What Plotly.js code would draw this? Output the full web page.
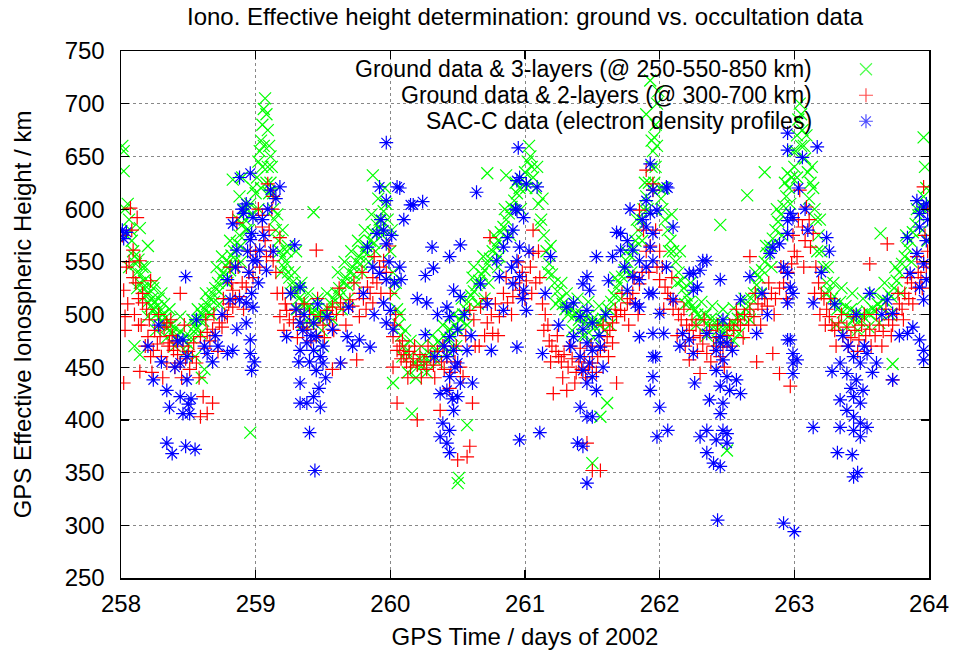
<!DOCTYPE html>
<html>
<head>
<meta charset="utf-8">
<script src="https://cdn.plot.ly/plotly-3.0.1.min.js"></script>
<style>html,body{margin:0;padding:0;background:#fff;}#chart{width:956px;height:653px;}</style>
</head>
<body>
<div id="chart"></div>
<script>
// ---------- data (day of 2002, effective height km) ----------
const titleText = "Iono. Effective height determination: ground vs. occultation data";
const xTitle = "GPS Time / days of 2002";
const yTitle = "GPS Effective Ionospheric Height / km";
const xTicks = [258, 259, 260, 261, 262, 263, 264];
const yTicks = [250, 300, 350, 400, 450, 500, 550, 600, 650, 700, 750];
const seriesNames = [
  "Ground data & 3-layers (@ 250-550-850 km)",
  "Ground data & 2-layers (@ 300-700 km)",
  "SAC-C data (electron density profiles)"
];

const green3Layer = [
[258.01,660],[258.02,655],[258.02,636],[258.03,600],[258.05,605],[258.06,590],[258.04,575],[258.07,580],[258.08,570],[258.09,560],[258.06,545],[258.1,555],
[258.11,548],[258.12,540],[258.13,552],[258.14,530],[258.14,582],[258.15,538],[258.16,525],[258.17,532],[258.18,518],[258.18,545],[258.19,526],[258.2,512],[258.2,565],[258.21,520],[258.22,508],[258.23,515],[258.24,505],[258.25,512],[258.25,530],[258.26,500],[258.27,508],[258.28,497],[258.29,503],[258.3,494],[258.3,520],[258.31,500],[258.32,490],[258.33,497],[258.34,488],[258.35,494],[258.36,485],[258.37,490],[258.38,482],[258.4,487],[258.42,480],[258.44,484],[258.46,476],[258.48,480],[258.5,472],[258.1,470],[258.14,462],[258.55,460],[258.6,440],[258.62,448],
[258.12,525],[258.16,545],[258.2,498],[258.24,525],[258.28,515],[258.32,510],[258.36,505],[258.4,470],[258.44,498],[258.48,465],[258.26,485],[258.34,478],
[258.52,478],[258.54,484],[258.55,490],[258.56,486],[258.58,495],[258.6,500],[258.61,494],[258.62,505],[258.64,510],[258.65,502],[258.66,515],[258.68,520],[258.69,512],[258.7,525],[258.72,530],[258.73,522],[258.74,536],[258.76,540],[258.77,532],[258.78,546],[258.8,550],[258.81,542],[258.82,556],[258.84,560],[258.85,552],[258.86,568],[258.88,575],[258.89,565],[258.9,585],[258.92,590],[258.93,580],[258.94,600],[258.96,605],[258.97,595],[258.83,628],[258.88,612],[258.9,630],[258.96,388],
[258.53,495],[258.57,505],[258.59,482],[258.63,520],[258.67,500],[258.71,545],[258.73,510],[258.75,555],[258.79,530],[258.81,570],[258.84,545],[258.87,590],[258.89,550],[258.91,600],[258.95,580],[258.98,620],
[259.0,615],[259.01,630],[259.02,645],[259.03,655],[259.04,665],[259.05,680],[259.06,695],[259.07,705],[259.08,690],[259.09,675],[259.1,660],[259.11,650],[259.12,640],[259.05,640],[259.08,625],[259.1,615],[259.13,600],[259.14,590],[259.15,580],
[259.02,600],[259.04,620],[259.06,660],[259.09,640],[259.11,625],[259.13,615],[259.16,595],
[259.17,570],[259.18,560],[259.2,555],[259.21,545],[259.22,550],[259.24,540],[259.25,535],[259.27,530],[259.28,525],[259.3,520],[259.32,515],[259.33,525],[259.35,512],[259.2,580],[259.24,565],
[259.19,540],[259.23,560],[259.26,520],[259.29,540],[259.31,505],[259.34,530],[259.39,520],[259.41,490],[259.46,515],[259.49,485],[259.53,520],
[259.37,510],[259.38,505],[259.4,508],[259.42,502],[259.44,498],[259.45,505],[259.47,500],[259.48,495],[259.5,502],[259.52,498],[259.54,505],[259.43,597],[259.3,560],[259.5,470],[259.35,490],
[259.56,510],[259.58,515],[259.6,520],[259.62,525],[259.63,518],[259.65,530],[259.67,535],[259.68,528],[259.7,540],[259.72,545],[259.73,538],[259.75,550],[259.77,555],[259.78,548],[259.8,560],[259.82,565],[259.83,558],[259.85,570],[259.87,578],[259.88,568],[259.9,585],[259.92,590],[259.93,580],[259.95,598],[259.97,605],[259.87,632],[259.98,590],
[259.57,495],[259.61,540],[259.64,505],[259.66,550],[259.69,515],[259.71,560],[259.74,530],[259.76,570],[259.79,540],[259.81,580],[259.84,550],[259.86,595],[259.89,560],[259.91,610],[259.94,575],[259.96,620],
[260.0,560],[260.02,540],[260.03,520],[260.05,505],[260.06,490],[260.08,480],[260.1,470],[260.12,465],[260.14,460],[260.02,435],[260.16,406],[260.18,455],[260.2,450],[260.22,458],[260.24,452],[260.26,460],[260.28,455],[260.3,462],[260.32,470],[260.34,465],[260.36,475],[260.38,470],[260.4,480],[260.42,476],[260.44,486],[260.46,480],[260.48,490],[260.5,485],[260.5,340],[260.51,345],[260.57,395],
[260.01,580],[260.04,530],[260.07,500],[260.09,460],[260.11,485],[260.13,445],[260.15,475],[260.19,440],[260.23,470],[260.27,445],[260.31,480],[260.35,455],[260.39,490],[260.43,465],[260.47,500],[260.49,470],
[260.52,495],[260.54,500],[260.56,505],[260.58,512],[260.6,518],[260.62,522],[260.64,528],[260.66,532],[260.68,538],[260.7,542],[260.72,548],[260.74,553],[260.76,560],[260.78,565],[260.8,570],[260.82,578],[260.84,583],[260.86,590],[260.88,596],[260.9,602],[260.92,608],[260.94,615],[260.96,620],[260.98,628],[261.0,635],[261.02,645],[261.04,650],[261.05,640],[261.06,630],[260.72,634],[260.86,632],[260.62,545],[260.7,515],[260.8,545],
[260.53,515],[260.57,490],[260.61,535],[260.65,510],[260.69,555],[260.73,530],[260.77,575],[260.81,555],[260.85,600],[260.89,575],[260.93,625],[260.97,600],[261.01,620],[261.03,660],
[261.08,620],[261.1,605],[261.12,590],[261.14,575],[261.16,560],[261.18,548],[261.2,538],[261.22,530],[261.24,522],[261.26,515],[261.28,510],[261.3,505],
[261.09,640],[261.11,585],[261.13,610],[261.17,540],[261.19,565],[261.23,510],[261.27,530],[261.31,520],[261.35,485],[261.39,515],[261.43,480],[261.47,512],[261.51,478],[261.55,508],[261.59,485],
[261.32,500],[261.34,505],[261.36,498],[261.38,502],[261.4,495],[261.42,500],[261.44,492],[261.46,498],[261.48,490],[261.5,495],[261.52,488],[261.54,494],[261.56,490],[261.58,496],[261.6,500],[261.5,359],[261.56,403],[261.61,416],[261.45,480],
[261.62,505],[261.64,512],[261.66,518],[261.68,525],[261.7,530],[261.72,536],[261.74,542],[261.76,550],[261.78,556],[261.8,563],[261.82,570],[261.84,580],[261.86,590],[261.88,600],[261.9,612],[261.92,625],[261.94,640],[261.95,655],[261.96,668],[261.97,680],[261.98,700],[261.99,712],[261.93,722],[261.9,690],[261.97,640],[262.0,620],[262.01,610],[262.02,600],
[261.63,490],[261.67,535],[261.71,515],[261.75,560],[261.79,540],[261.83,590],[261.87,570],[261.89,625],[261.91,600],[261.94,665],[261.96,625],[261.98,660],
[262.04,590],[262.06,580],[262.08,570],[262.1,560],[262.12,550],[262.14,540],[262.16,532],[262.18,525],[262.2,518],[262.22,512],[262.24,508],[262.26,504],[262.28,500],
[262.03,620],[262.07,560],[262.09,595],[262.13,530],[262.15,560],[262.19,510],[262.23,530],[262.27,490],[262.31,512],[262.35,480],[262.39,508],[262.43,475],[262.47,505],[262.51,478],[262.55,506],[262.59,482],[262.63,515],
[262.3,498],[262.32,494],[262.34,500],[262.36,490],[262.38,496],[262.4,488],[262.42,494],[262.44,486],[262.46,492],[262.48,485],[262.5,490],[262.52,487],[262.54,493],[262.56,490],[262.58,496],[262.6,500],[262.62,497],[262.64,505],[262.45,585],[262.5,371],[262.55,475],
[262.66,508],[262.68,515],[262.7,520],[262.72,528],[262.74,535],[262.76,542],[262.78,550],[262.8,558],[262.82,565],[262.84,572],[262.86,580],[262.88,588],[262.9,595],[262.92,603],[262.94,612],[262.96,620],[262.98,630],[263.0,640],[262.65,613],[262.78,635],[262.95,634],
[262.67,495],[262.71,540],[262.75,520],[262.79,565],[262.83,545],[262.87,600],[262.91,575],[262.93,625],[262.97,605],[262.99,655],
[263.01,655],[263.02,670],[263.03,685],[263.04,700],[263.05,690],[263.06,675],[263.07,660],[263.08,648],[263.1,635],[263.12,625],[263.14,620],
[263.02,630],[263.05,660],[263.09,670],[263.11,610],[263.13,640],[263.17,560],[263.19,590],[263.23,520],[263.25,545],[263.29,530],
[263.15,600],[263.16,590],[263.18,575],[263.2,560],[263.22,545],[263.24,530],[263.26,522],[263.28,515],
[263.3,510],[263.32,505],[263.34,512],[263.36,502],[263.38,508],[263.4,498],[263.42,505],[263.44,496],[263.46,502],[263.48,494],[263.5,500],[263.52,497],[263.54,503],[263.56,500],[263.58,506],[263.6,503],[263.62,510],[263.64,507],[263.66,514],[263.68,512],[263.7,520],[263.72,517],[263.64,577],[263.73,453],
[263.31,490],[263.35,525],[263.39,488],[263.43,520],[263.47,485],[263.51,515],[263.55,488],[263.59,520],[263.63,492],[263.67,530],[263.71,500],
[263.74,525],[263.76,532],[263.78,540],[263.8,548],[263.82,555],[263.84,563],[263.86,570],[263.88,578],[263.9,586],[263.92,594],[263.94,602],[263.96,612],[263.98,620],[263.96,668],[263.99,600],
[263.75,545],[263.79,520],[263.83,575],[263.87,550],[263.91,600],[263.95,580],[263.97,640],[263.99,570]
];

const red2Layer = [
[258.01,575],[258.02,523],[258.02,435],[258.03,498],[258.03,485],[258.04,545],[258.05,510],[258.07,601],[258.08,580],[258.09,561],[258.09,535],[258.1,500],[258.12,592],[258.13,515],[258.14,551],[258.14,446],[258.15,490],[258.16,520],[258.16,511],[258.18,470],[258.2,479],[258.21,495],[258.22,460],[258.22,532],[258.24,466],[258.25,485],[258.27,472],[258.29,479],[258.3,460],[258.32,488],[258.34,492],[258.34,454],[258.35,470],[258.36,473],[258.38,480],[258.39,466],[258.4,450],[258.42,462],[258.44,454],[258.44,520],[258.46,470],[258.48,458],[258.5,465],[258.51,448],[258.53,460],[258.54,473],[258.56,454],[258.59,479],[258.59,403],[258.61,422],[258.62,468],[258.64,483],[258.64,406],[258.66,475],[258.68,486],[258.68,416],[258.7,480],[258.73,492],[258.75,488],[258.77,500],[258.79,498],[258.8,510],[258.81,545],[258.83,507],[258.83,523],[258.83,592],[258.85,515],[258.86,587],[258.88,517],[258.9,530],[258.93,526],[258.95,540],[258.98,535],
[258.06,550],[258.11,530],[258.13,490],[258.19,505],[258.23,445],[258.28,500],[258.31,440],[258.37,495],[258.41,475],[258.45,440],[258.47,490],[258.58,440],[258.63,495],[258.69,500],[258.72,465],[258.76,515],[258.82,530],[258.87,545],[258.91,505],[258.96,560],
[259.0,560],[259.03,545],[259.05,583],[259.05,594],[259.07,570],[259.08,555],[259.09,624],[259.1,580],[259.12,600],[259.13,612],[259.13,551],[259.15,540],[259.18,573],[259.18,498],[259.2,520],[259.22,510],[259.23,504],[259.25,495],[259.28,492],[259.3,505],[259.33,498],[259.35,488],[259.38,486],[259.4,500],[259.43,492],[259.45,561],[259.45,480],[259.48,498],[259.5,490],[259.53,504],[259.55,495],[259.57,507],[259.57,448],[259.6,500],[259.63,511],[259.63,454],[259.65,505],[259.7,514],[259.72,508],[259.75,457],[259.77,520],[259.77,498],[259.8,515],[259.83,526],[259.85,520],[259.87,535],[259.87,511],[259.9,530],[259.92,545],[259.95,551],[259.97,540],
[259.02,600],[259.11,560],[259.16,520],[259.21,485],[259.26,520],[259.31,478],[259.36,510],[259.41,475],[259.46,515],[259.51,478],[259.58,485],[259.62,525],[259.67,490],[259.73,530],[259.79,540],[259.82,505],[259.88,555],[259.93,520],[259.99,565],
[260.0,520],[260.02,479],[260.02,450],[260.04,500],[260.05,466],[260.05,416],[260.07,470],[260.08,458],[260.1,462],[260.12,455],[260.14,465],[260.15,450],[260.17,458],[260.2,400],[260.2,452],[260.22,462],[260.25,455],[260.27,448],[260.3,460],[260.32,452],[260.35,465],[260.37,409],[260.38,455],[260.4,448],[260.42,460],[260.45,445],[260.48,455],[260.5,362],[260.52,450],[260.54,441],[260.57,365],[260.59,375],[260.59,504],[260.61,416],[260.63,470],[260.67,507],[260.7,480],[260.72,492],[260.74,573],[260.76,482],[260.78,510],[260.81,498],[260.84,520],[260.87,511],[260.91,517],[260.93,530],[260.96,523],[260.98,540],
[260.03,490],[260.09,475],[260.13,440],[260.18,470],[260.23,440],[260.28,470],[260.33,440],[260.39,470],[260.44,430],[260.49,470],[260.56,480],[260.62,495],[260.66,470],[260.71,515],[260.75,500],[260.8,480],[260.86,535],[260.9,500],[260.95,550],[261.0,515],
[261.01,532],[261.04,545],[261.06,558],[261.06,580],[261.08,530],[261.11,535],[261.13,510],[261.15,500],[261.17,490],[261.18,475],[261.2,470],[261.21,425],[261.23,465],[261.25,460],[261.27,455],[261.29,462],[261.31,428],[261.32,450],[261.35,458],[261.38,445],[261.4,455],[261.42,448],[261.44,460],[261.46,378],[261.47,450],[261.5,352],[261.5,454],[261.53,445],[261.56,352],[261.56,466],[261.59,470],[261.61,479],[261.63,485],[261.65,492],[261.65,473],[261.68,435],[261.68,498],[261.71,504],[261.74,500],[261.76,511],[261.78,515],[261.8,520],[261.82,510],[261.85,529],[261.85,599],[261.87,540],[261.9,637],[261.9,560],[261.92,540],[261.95,624],[261.95,618],[261.97,580],
[261.05,520],[261.1,560],[261.14,485],[261.19,455],[261.24,480],[261.28,440],[261.33,470],[261.37,435],[261.41,468],[261.45,440],[261.49,470],[261.54,460],[261.58,490],[261.62,460],[261.67,505],[261.72,520],[261.77,490],[261.81,535],[261.84,500],[261.88,580],[261.93,565],[261.98,545],
[262.0,533],[262.0,560],[262.02,545],[262.04,526],[262.06,520],[262.08,515],[262.1,505],[262.12,512],[262.14,500],[262.16,495],[262.18,505],[262.2,490],[262.22,457],[262.22,485],[262.25,478],[262.27,490],[262.3,444],[262.3,480],[262.32,472],[262.35,463],[262.37,485],[262.4,470],[262.42,478],[262.45,460],[262.47,469],[262.5,480],[262.52,490],[262.55,485],[262.58,495],[262.6,490],[262.63,500],[262.67,555],[262.67,505],[262.7,498],[262.72,455],[262.73,510],[262.76,505],[262.78,515],[262.8,508],[262.83,520],[262.84,463],[262.86,515],[262.89,444],[262.89,525],[262.92,530],[262.95,540],[262.97,432],[262.98,548],
[262.03,505],[262.09,535],[262.13,480],[262.19,470],[262.24,495],[262.28,465],[262.33,495],[262.38,455],[262.43,490],[262.48,450],[262.53,470],[262.57,505],[262.62,478],[262.66,490],[262.71,520],[262.75,490],[262.81,530],[262.85,500],[262.9,545],[262.94,515],[262.99,575],
[263.0,560],[263.02,555],[263.04,618],[263.06,583],[263.08,570],[263.09,602],[263.12,564],[263.14,577],[263.16,545],[263.18,530],[263.2,520],[263.22,515],[263.24,505],[263.26,498],[263.28,490],[263.3,485],[263.33,492],[263.36,480],[263.39,488],[263.42,478],[263.45,485],[263.48,476],[263.5,490],[263.53,480],[263.56,548],[263.56,486],[263.6,480],[263.63,490],[263.66,484],[263.69,567],[263.7,495],[263.73,438],[263.73,490],[263.76,500],[263.78,510],[263.8,505],[263.82,520],[263.85,515],[263.87,530],[263.9,525],[263.92,540],[263.94,535],[263.96,621],[263.96,550],[263.98,545],[263.99,600],
[263.03,590],[263.07,545],[263.11,590],[263.15,520],[263.19,500],[263.23,490],[263.27,515],[263.31,470],[263.35,500],[263.4,470],[263.44,498],[263.47,465],[263.52,500],[263.57,470],[263.61,500],[263.65,470],[263.68,505],[263.72,480],[263.77,520],[263.81,495],[263.84,535],[263.88,510],[263.91,555],[263.95,525],[263.97,575],[263.99,560]
];

const blueSacC = [
[258.01,580],[258.04,578],[258.02,572],
[258.2,470],[258.24,438],[258.28,490],[258.3,455],[258.34,428],[258.34,378],[258.36,412],[258.38,368],[258.4,450],[258.42,475],[258.44,422],[258.44,454],[258.46,406],[258.46,476],[258.48,536],[258.48,375],[258.49,460],[258.49,438],[258.5,415],[258.51,406],[258.52,420],[258.55,372],[258.56,495],
[258.62,470],[258.64,463],[258.68,455],[258.7,480],[258.72,470],[258.75,500],[258.79,463],[258.79,533],[258.81,514],[258.83,466],[258.83,586],[258.85,545],[258.86,486],[258.86,561],[258.88,514],[258.88,630],[258.9,600],[258.91,596],[258.93,492],[258.93,511],[258.93,605],[258.94,560],[258.95,540],[258.96,634],[258.96,571],[258.96,476],[258.96,463],[258.97,577],[258.97,520],[258.97,447],[258.98,592],[258.98,551],[258.98,507],[258.99,455],
[259.01,551],[259.02,530],[259.03,561],[259.05,590],[259.06,575],[259.08,542],[259.09,600],[259.11,618],[259.13,560],[259.15,610],[259.18,621],
[259.23,479],[259.26,520],[259.29,566],[259.3,505],[259.32,455],[259.33,526],[259.33,492],[259.33,466],[259.33,435],[259.33,416],[259.35,485],[259.36,500],[259.38,473],[259.38,416],[259.4,388],[259.4,455],[259.41,480],[259.43,492],[259.43,466],[259.43,422],[259.44,352],[259.45,479],[259.45,447],[259.46,510],[259.47,430],[259.48,460],[259.48,412],[259.5,454],[259.5,470],[259.52,440],[259.53,498],[259.57,486],
[259.63,454],[259.68,479],[259.69,507],[259.72,470],[259.77,476],[259.8,520],[259.83,564],[259.85,469],[259.87,545],[259.88,500],[259.9,577],[259.92,621],[259.92,539],[259.93,590],[259.95,580],[259.95,511],[259.97,663],[259.97,608],[259.97,567],[259.97,533],[259.97,492],[259.99,550],[260.0,504],[260.01,575],[260.02,486],[260.03,530],[260.05,621],[260.07,620],[260.07,545],[260.08,533],[260.1,590],
[260.15,604],[260.17,604],[260.2,515],[260.24,607],[260.26,537],[260.26,481],[260.27,511],[260.31,564],[260.32,544],[260.33,460],
[260.35,500],[260.37,425],[260.37,384],[260.39,397],[260.4,470],[260.42,507],[260.42,460],[260.42,428],[260.42,378],[260.44,555],[260.44,498],[260.44,479],[260.44,441],[260.44,390],[260.44,369],[260.46,420],[260.47,523],[260.47,466],[260.47,409],[260.48,450],[260.5,486],[260.5,454],[260.5,422],[260.52,566],[260.52,517],[260.52,435],[260.55,500],[260.57,466],[260.6,480],[260.61,435],
[260.64,616],[260.67,529],[260.72,510],[260.75,466],[260.79,551],[260.81,536],[260.84,564],[260.84,504],[260.87,573],[260.9,545],[260.91,580],[260.91,529],[260.93,600],[260.94,627],[260.94,599],[260.94,551],[260.94,469],[260.95,658],[260.96,630],[260.96,564],[260.96,536],[260.96,381],[260.98,515],[260.99,592],[260.99,523],[261.01,624],[261.01,504],[261.03,560],[261.09,621],[261.11,388],[261.13,463],[261.15,520],[261.19,555],[261.25,490],
[261.31,507],[261.34,470],[261.36,511],[261.36,479],[261.39,378],[261.41,498],[261.41,460],[261.41,412],[261.43,529],[261.43,486],[261.43,447],[261.43,375],[261.46,536],[261.46,504],[261.46,473],[261.46,435],[261.46,403],[261.46,340],[261.48,523],[261.48,454],[261.5,492],[261.5,466],[261.5,441],[261.5,403],[261.53,428],[261.53,555],[261.55,480],[261.56,469],[261.58,450],[261.6,500],
[261.62,532],[261.65,555],[261.68,578],[261.71,577],[261.71,561],[261.74,545],[261.76,570],[261.76,523],[261.78,600],[261.8,561],[261.8,536],[261.82,510],[261.85,551],[261.85,533],[261.85,507],[261.85,479],[261.87,590],[261.9,608],[261.9,583],[261.9,545],[261.92,520],[261.93,643],[261.93,596],[261.93,564],[261.93,428],[261.95,618],[261.95,577],[261.95,551],[261.95,520],[261.95,482],[261.95,460],[261.95,441],[261.97,460],[261.98,599],[261.98,384],[262.0,501],[262.0,412],[262.03,482],[262.05,621],[262.05,545],[262.06,620],[262.06,390],[262.1,583],[262.1,514],
[262.15,470],[262.17,482],[262.22,539],[262.22,476],[262.25,539],[262.25,523],[262.25,463],[262.26,435],[262.28,526],[262.3,542],[262.3,384],[262.32,551],[262.35,551],[262.35,482],[262.35,390],[262.35,369],[262.37,419],[262.4,359],[262.42,466],[262.42,447],[262.42,381],[262.43,305],[262.45,533],[262.45,479],[262.45,473],[262.45,432],[262.45,406],[262.45,356],[262.47,495],[262.47,457],[262.47,416],[262.47,390],[262.5,473],[262.5,441],[262.5,387],[262.5,378],[262.52,428],[262.54,466],[262.57,438],[262.6,514],[262.6,425],
[262.67,536],[262.72,482],[262.76,520],[262.8,500],[262.82,558],[262.84,564],[262.89,567],[262.92,545],[262.92,302],[262.95,672],[262.95,656],[262.95,577],[262.95,589],[262.95,539],[262.95,511],[262.95,476],[262.97,596],[262.97,526],[262.97,476],[262.99,592],[262.99,520],[262.99,463],[262.99,454],[262.99,444],[263.0,294],[263.02,457],[263.03,620],[263.06,649],[263.08,600],[263.1,580],
[263.14,511],[263.14,393],[263.17,659],[263.2,540],[263.24,573],[263.26,560],[263.28,446],[263.3,510],[263.32,369],
[263.34,454],[263.34,419],[263.34,393],[263.36,480],[263.39,444],[263.39,409],[263.4,470],[263.42,430],[263.43,367],[263.44,460],[263.44,422],[263.44,403],[263.44,390],[263.44,346],[263.46,438],[263.46,500],[263.47,350],[263.49,454],[263.49,416],[263.49,397],[263.49,384],[263.51,428],[263.52,470],[263.54,463],[263.54,393],[263.56,520],[263.58,445],
[263.61,454],[263.65,500],[263.69,514],[263.73,501],[263.73,438],[263.78,480],[263.84,482],[263.84,573],[263.86,539],[263.88,488],[263.91,608],[263.91,558],[263.93,596],[263.93,583],[263.93,526],[263.93,476],[263.96,602],[263.96,548],[263.96,514],[263.96,466],[263.96,457],[263.98,605],[263.98,570],[263.98,533],[263.99,590]
];

// ---------- styling ----------
const FONT = "Liberation Sans, Arial, Helvetica, sans-serif";
const colors = ["#00ff00", "#ff0000", "#0000ff"];
const symbols = ["x-thin-open", "cross-thin-open", "asterisk-open"];
const sizes = [12, 10, 11.5];
const allSeries = [green3Layer, red2Layer, blueSacC];

const traces = allSeries.map((pts, i) => ({
  type: "scatter",
  mode: "markers",
  name: seriesNames[i],
  x: pts.map(p => p[0]),
  y: pts.map(p => p[1]),
  marker: { symbol: symbols[i], size: sizes[i], color: colors[i], line: { color: colors[i], width: 1.2 } },
  hoverinfo: "x+y",
  showlegend: false
}));

// key (legend) drawn gnuplot-style: text right-aligned, sample to the right
const keyRows = [0.9653, 0.916, 0.8667];
traces.push({
  type: "scatter", mode: "markers", xaxis: "x2", yaxis: "y2",
  x: [0.922, 0.922, 0.922], y: keyRows,
  marker: { symbol: symbols, size: sizes, color: colors, line: { color: colors, width: 1.2 } },
  hoverinfo: "skip", showlegend: false
});

const annotations = seriesNames.map((t, i) => ({
  xref: "paper", yref: "paper", x: 0.8577, y: keyRows[i],
  xanchor: "right", yanchor: "middle", showarrow: false, text: t,
  font: { family: FONT, size: 23, color: "#000" }
}));

const axisCommon = {
  showline: true, linecolor: "#000", linewidth: 1.5, mirror: "ticks",
  ticks: "inside", ticklen: 8, tickwidth: 1.2, tickcolor: "#000",
  showgrid: true, gridcolor: "#888", griddash: "dot", gridwidth: 1,
  zeroline: false, tickfont: { family: FONT, size: 24, color: "#000" }
};

const layout = {
  width: 956, height: 653,
  margin: { l: 121, r: 27, t: 51, b: 75, pad: 0 },
  paper_bgcolor: "#fff", plot_bgcolor: "#fff",
  showlegend: false,
  title: { text: titleText, font: { family: FONT, size: 24, color: "#000" }, x: 0.5, xref: "paper", y: 0.975, yref: "container", yanchor: "middle" },
  xaxis: Object.assign({}, axisCommon, {
    range: [258, 264], tickvals: xTicks, ticktext: xTicks.map(String), ticklabelstandoff: 4,
    title: { text: xTitle, font: { family: FONT, size: 24, color: "#000" }, standoff: 12 }
  }),
  yaxis: Object.assign({}, axisCommon, {
    range: [250, 750], tickvals: yTicks, ticktext: yTicks.map(String), ticklabelstandoff: 10,
    title: { text: yTitle, font: { family: FONT, size: 24, color: "#000" }, standoff: 26 }
  }),
  xaxis2: { overlaying: "x", range: [0, 1], visible: false, fixedrange: true },
  yaxis2: { overlaying: "y", range: [0, 1], visible: false, fixedrange: true },
  shapes: [{
    type: "rect", xref: "paper", yref: "paper", x0: 0.085, x1: 0.995, y0: 0.85, y1: 0.99,
    fillcolor: "#fff", line: { width: 0 }, layer: "between"
  }],
  annotations: annotations
};

Plotly.newPlot("chart", traces, layout, { displayModeBar: false, staticPlot: true });
</script>
</body>
</html>
